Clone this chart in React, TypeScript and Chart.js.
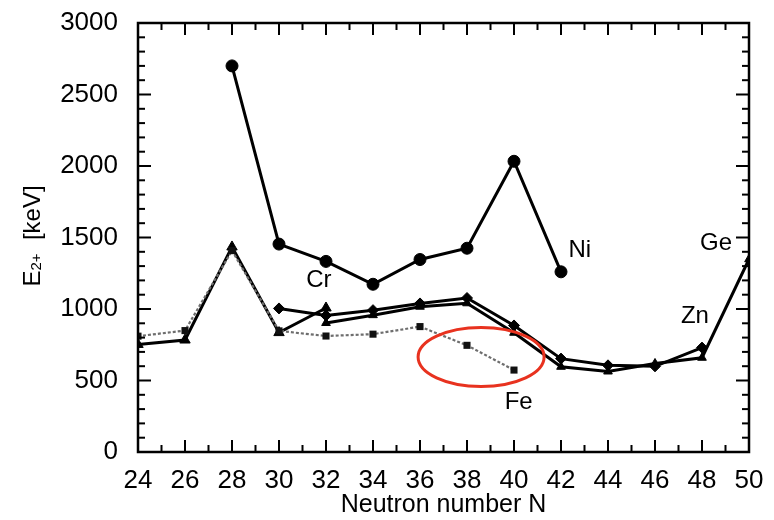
import React, { useEffect, useRef } from "react";
import { Chart, registerables } from "chart.js";

Chart.register(...registerables);

const niN = [28, 30, 32, 34, 36, 38, 40, 42];
const niE = [2700, 1454, 1333, 1173, 1346, 1425, 2033, 1260];
const crN = [24, 26, 28, 30, 32];
const crE = [752, 783, 1434, 835, 1007];
const feN = [24, 26, 28, 30, 32, 34, 36, 38, 40];
const feE = [810, 849, 1408, 847, 811, 824, 877, 746, 573];
const znN = [30, 32, 34, 36, 38, 40, 42, 44, 46, 48];
const znE = [1004, 954, 992, 1039, 1077, 885, 653, 606, 599, 730];
const geN = [32, 34, 36, 38, 40, 42, 44, 46, 48, 50];
const geE = [902, 957, 1016, 1040, 834, 596, 563, 619, 659, 1348];

const xTicks = [24, 26, 28, 30, 32, 34, 36, 38, 40, 42, 44, 46, 48, 50];
const yTicks = [0, 500, 1000, 1500, 2000, 2500, 3000];

const seriesLabels = [
  { text: "Cr", x: 31.7, y: 1200 },
  { text: "Ni", x: 42.8, y: 1410 },
  { text: "Ge", x: 48.6, y: 1460 },
  { text: "Zn", x: 47.7, y: 945 },
  { text: "Fe", x: 40.2, y: 350 },
];
const highlight = { x: 38.6, y: 664 };

const FONT = "'Liberation Sans', Arial, sans-serif";

const pts = (xs: number[], ys: number[]) => xs.map((x, i) => ({ x, y: ys[i] }));

const framePlugin = {
  id: "frame",
  afterDraw(chart: any) {
    const { ctx, chartArea: a, scales } = chart;
    const xs = scales.x;
    const ys = scales.y;
    ctx.save();
    ctx.setLineDash([]);
    ctx.strokeStyle = "#000";
    ctx.fillStyle = "#000";
    ctx.lineWidth = 2.5;
    ctx.strokeRect(a.left, a.top, a.right - a.left, a.bottom - a.top);
    for (let v = 24; v <= 50; v++) {
      const px = xs.getPixelForValue(v);
      const len = v % 2 === 0 ? 12 : 7;
      ctx.fillRect(px - 1, a.bottom - len, 2, len);
      ctx.fillRect(px - 1, a.top, 2, len);
    }
    for (let v = 0; v <= 3000; v += 100) {
      const py = ys.getPixelForValue(v);
      const len = v % 500 === 0 ? 13 : 7;
      ctx.fillRect(a.left, py - 1, len, 2);
      ctx.fillRect(a.right - len, py - 1, len, 2);
    }

    // series labels
    ctx.font = `24px ${FONT}`;
    ctx.textAlign = "center";
    ctx.textBaseline = "middle";
    seriesLabels.forEach((l) => {
      ctx.fillText(l.text, xs.getPixelForValue(l.x), ys.getPixelForValue(l.y));
    });

    // red highlight ellipse
    ctx.beginPath();
    ctx.strokeStyle = "#e8321f";
    ctx.lineWidth = 3;
    ctx.ellipse(xs.getPixelForValue(highlight.x), ys.getPixelForValue(highlight.y), 63, 29.5, 0, 0, Math.PI * 2);
    ctx.stroke();

    // x title
    ctx.fillStyle = "#000";
    ctx.font = `25px ${FONT}`;
    ctx.textAlign = "center";
    ctx.textBaseline = "middle";
    ctx.fillText("Neutron number N", (a.left + a.right) / 2, 505);

    // y title with subscript
    ctx.translate(33, 236);
    ctx.rotate(-Math.PI / 2);
    ctx.textAlign = "left";
    ctx.textBaseline = "middle";
    const big = `24px ${FONT}`;
    const small = `15px ${FONT}`;
    ctx.font = big;
    const wE = ctx.measureText("E").width;
    ctx.font = small;
    const wSub = ctx.measureText("2+").width;
    ctx.font = big;
    const wRest = ctx.measureText("  [keV]").width;
    const total = wE + wSub + wRest;
    let x0 = -total / 2;
    ctx.fillText("E", x0, 0);
    x0 += wE;
    ctx.font = small;
    ctx.fillText("2+", x0, 4);
    x0 += wSub;
    ctx.font = big;
    ctx.fillText("  [keV]", x0, 0);
    ctx.restore();
  },
};

export default function App() {
  const ref = useRef<HTMLCanvasElement>(null);
  useEffect(() => {
    document.body.style.margin = "0";
    const solid = (label: string, data: any, style: string, r: number) => ({
      label,
      data,
      borderColor: "#000",
      backgroundColor: "#000",
      borderWidth: 3,
      pointStyle: style,
      pointRadius: r,
      pointBorderWidth: 1,
      tension: 0,
    });
    const chart = new Chart(ref.current!, {
      type: "line",
      data: {
        datasets: [
          {
            label: "Fe",
            data: pts(feN, feE),
            borderColor: "#6e6e6e",
            backgroundColor: "#111",
            borderWidth: 2.2,
            borderDash: [3, 2],
            pointStyle: "rect",
            pointRadius: 5,
            pointBorderWidth: 0,
          },
          solid("Cr", pts(crN, crE), "triangle", 6),
          solid("Zn", pts(znN, znE), "rectRot", 5.5),
          solid("Ge", pts(geN, geE), "triangle", 5),
          solid("Ni", pts(niN, niE), "circle", 6),
        ],
      },
      options: {
        animation: false,
        responsive: false,
        maintainAspectRatio: false,
        layout: { padding: { top: 23, right: 25, left: 0, bottom: 0 } },
        plugins: { legend: { display: false }, tooltip: { enabled: false } },
        scales: {
          x: {
            type: "linear",
            min: 24,
            max: 50,
            afterBuildTicks: (s: any) => {
              s.ticks = xTicks.map((v) => ({ value: v }));
            },
            afterFit: (s: any) => {
              s.height = 68;
              s.paddingLeft = 0;
              s.paddingRight = 0;
            },
            grid: { display: false, drawTicks: false },
            border: { display: false },
            ticks: {
              color: "#000",
              font: { size: 26, family: FONT },
              padding: 13,
              maxRotation: 0,
              autoSkip: false,
              callback: (v: any) => String(v),
            },
          },
          y: {
            type: "linear",
            min: 0,
            max: 3000,
            afterBuildTicks: (s: any) => {
              s.ticks = yTicks.map((v) => ({ value: v }));
            },
            afterFit: (s: any) => {
              s.width = 138;
              s.paddingTop = 0;
              s.paddingBottom = 0;
            },
            grid: { display: false, drawTicks: false },
            border: { display: false },
            ticks: {
              color: "#000",
              font: { size: 26, family: FONT },
              padding: 20,
              autoSkip: false,
              callback: (v: any) => String(v),
            },
          },
        },
      },
      plugins: [framePlugin],
    });
    return () => chart.destroy();
  }, []);
  return <canvas ref={ref} width={774} height={520} style={{ display: "block" }} />;
}
